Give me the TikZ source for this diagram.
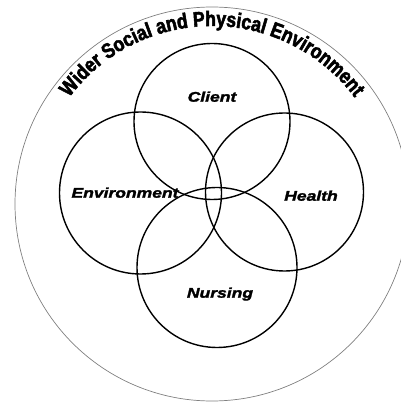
\documentclass[tikz,border=0pt]{standalone}
\usepackage{fontspec}
\setmainfont{Liberation Sans}
\newfontfamily\labfont[FakeStretch=1.25,FakeBold=2]{Liberation Sans}
\newfontfamily\curvefont[FakeStretch=0.84,FakeBold=2.5]{Liberation Sans}
\usetikzlibrary{decorations.text}
\begin{document}
\begin{tikzpicture}[x=1pt,y=1pt,
  ring/.style={circle, draw=black, line width=1.4pt, inner sep=0pt},
  lab/.style={anchor=base, inner sep=0pt, font=\labfont\fontsize{14}{16}\selectfont\bfseries\itshape}]
\useasboundingbox (0,0) rectangle (401,402);
\clip (0,0) rectangle (401,402);
\coordinate (c) at (212,198);
\node[circle, draw=black!50, line width=0.7pt, minimum size=394pt, inner sep=0pt] (outer) at (c) {};
\node[ring, minimum size=156pt] (client) at (212,280.5) {};
\node[ring, minimum size=162pt] (env) at (140.5,209) {};
\node[ring, minimum size=158pt] (health) at (284.5,210) {};
\node[ring, minimum size=160pt] (nursing) at (217,134.5) {};
\node[lab] (tclient) at (212,300.3) {Client};
\node[lab] (tenv) at (125,204.3) {Environment};
\node[lab] (thealth) at (311,201.3) {Health};
\node[lab] (tnursing) at (220,104.3) {Nursing};
\path[decorate, decoration={text along path, text align=center,
  text={|\curvefont\fontsize{21}{23}\selectfont\bfseries|Wider Social and Physical Environment}}]
  ([shift={(c)}]150:178pt) arc[start angle=150, end angle=30, radius=178pt];
\end{tikzpicture}
\end{document}
